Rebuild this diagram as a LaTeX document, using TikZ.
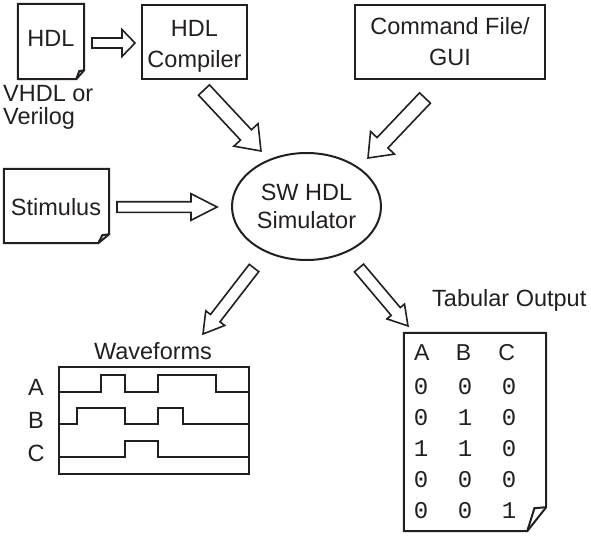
\documentclass[tikz,border=0pt]{standalone}
\usepackage{fontspec}
\setmainfont{Liberation Sans}
\newfontfamily\digitfont{Liberation Mono}
\usetikzlibrary{shapes.geometric,fit}
\definecolor{ink}{RGB}{35,31,32}

% Hollow block arrow from #1 to #2: shaft half width #3, head half width #4, head length #5
\newcommand{\fatarrow}[5]{%
  \path (#1); \pgfgetlastxy{\faX}{\faY}%
  \path (#2); \pgfgetlastxy{\fbX}{\fbY}%
  \pgfmathsetmacro{\faAng}{atan2((\fbY)-(\faY),(\fbX)-(\faX))}%
  \pgfmathsetmacro{\faLen}{veclen((\fbX)-(\faX),(\fbY)-(\faY))}%
  \pgfmathsetmacro{\faNeck}{\faLen-#5}%
  \begin{scope}[shift={(\faX,\faY)},rotate=\faAng]
    \draw[hollowarrow] (0,#3) -- (\faNeck,#3) -- (\faNeck,#4) -- (\faLen,0)
      -- (\faNeck,-#4) -- (\faNeck,-#3) -- (0,-#3) -- cycle;
  \end{scope}}

% Sheet of paper with a curled lower right corner, drawn round node #1
\newcommand{\docpage}[3]{%
  \draw[pageline] (#1.north west) -- (#1.north east) -- ([yshift=#3pt]#1.south east)
    -- ([xshift=-#2pt]#1.south east) -- (#1.south west) -- cycle;
  \draw[pageline] ([yshift=#3pt]#1.south east)
    -- ([xshift={-0.62*#2pt},yshift={#3pt-1pt}]#1.south east)
    -- ([xshift=-#2pt]#1.south east);}

\begin{document}
\begin{tikzpicture}[x=1pt,y=-1pt,line join=miter,
  lbl/.style={font=\fontsize{23.5}{31}\selectfont, text=ink, inner sep=0pt},
  boxline/.style={draw=ink, line width=2pt},
  pageline/.style={draw=ink, line width=2pt},
  pagebox/.style={inner sep=0pt},
  hollowarrow/.style={draw=ink, line width=1.6pt, fill=white},
  wave/.style={draw=ink, line width=2pt},
  digit/.style={font=\digitfont\fontsize{24}{28}\selectfont, text=ink, inner sep=0pt, anchor=base},
  colhead/.style={font=\fontsize{23}{27}\selectfont, text=ink, inner sep=0pt, anchor=base}]

\useasboundingbox (0,0) rectangle (591,535);

% HDL source file
\node[pagebox, fit={(18,4) (84,79)}] (hdl) {};
\docpage{hdl}{8}{9}
\node[lbl] (hdltxt) at (51,38) {HDL};
\node[lbl, anchor=north west, align=left, font=\fontsize{23.5}{23}\selectfont] (lang) at (3,85) {VHDL or\\Verilog};

% Compiler
\node[boxline, minimum width=105pt, minimum height=74pt, inner sep=0pt] (comp) at (194.5,42) {};
\node[lbl, align=center] (comptxt) at (194.5,46.3) {HDL\\Compiler};

% Command file / GUI
\node[boxline, lbl, align=center, minimum width=190pt, minimum height=74pt] (cmd) at (450,42) {Command File/\\GUI};

% Simulator
\node[ellipse, boxline, lbl, align=center, font=\fontsize{23.5}{28}\selectfont,
      minimum width=149pt, minimum height=107pt] (sim) at (306.5,206.5) {SW HDL\\Simulator};

% Stimulus file
\node[pagebox, fit={(4,169) (109,243)}] (stim) {};
\docpage{stim}{11}{9}
\node[lbl] (stimtxt) at (56,207) {Stimulus};

% Arrow end points
\coordinate (a1s) at (92,43);    \coordinate (a1e) at (135,43);
\coordinate (a2s) at (117,207);  \coordinate (a2e) at (217,207);
\coordinate (a3s) at (204,90);   \coordinate (a3e) at (261,151);
\coordinate (a4s) at (425,98);   \coordinate (a4e) at (368,158);
\coordinate (a5s) at (254,268);  \coordinate (a5e) at (203,334);
\coordinate (a6s) at (359,268);  \coordinate (a6e) at (408,326);

\fatarrow{a1s}{a1e}{5}{13.5}{13}
\fatarrow{a2s}{a2e}{5.3}{13.3}{26}
\fatarrow{a3s}{a3e}{7.5}{16.5}{22}
\fatarrow{a4s}{a4e}{7.5}{16.5}{21}
\fatarrow{a5s}{a5e}{6}{12}{20}
\fatarrow{a6s}{a6e}{6}{11.5}{19}

% Waveforms
\node[lbl] (wavetitle) at (153,351) {Waveforms};
\node[lbl] (wA) at (36,387) {A};
\node[lbl] (wB) at (36,420) {B};
\node[lbl] (wC) at (36,453) {C};
\draw[wave] (59,367) rectangle (249,474);
\draw[wave] (59,392) -- (101,392) -- (101,375) -- (125,375) -- (125,392) -- (158,392)
  -- (158,375) -- (216,375) -- (216,392) -- (249,392);
\draw[wave] (59,424) -- (77,424) -- (77,408) -- (125,408) -- (125,424) -- (158,424)
  -- (158,408) -- (183,408) -- (183,424) -- (249,424);
\draw[wave] (59,457) -- (125,457) -- (125,441) -- (158,441) -- (158,457) -- (249,457);

% Tabular output
\node[lbl, anchor=west] (tabtitle) at (432,300) {Tabular Output};
\node[pagebox, fit={(404,333) (546,531)}] (tab) {};
\docpage{tab}{19}{24}
\node[colhead] (hA) at (421.7,360) {A};
\node[colhead] (hB) at (463.5,360) {B};
\node[colhead] (hC) at (506.7,360) {C};
\foreach \r/\a/\b/\c in {0/0/0/0, 1/0/1/0, 2/1/1/0, 3/0/0/0, 4/0/0/1}{
  \node[digit] (d\r a) at (421,394.5+30.9*\r) {\a};
  \node[digit] (d\r b) at (465,394.5+30.9*\r) {\b};
  \node[digit] (d\r c) at (509,394.5+30.9*\r) {\c};
}
\end{tikzpicture}
\end{document}
